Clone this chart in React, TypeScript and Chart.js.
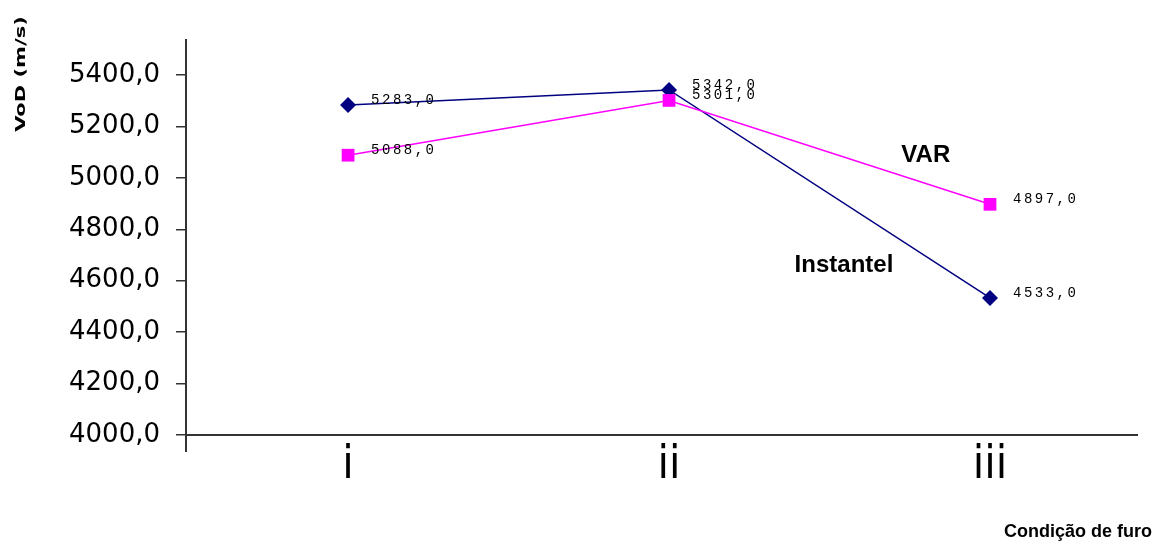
import React, { useEffect, useRef } from "react";
import { Chart, registerables } from "chart.js";

Chart.register(...registerables);

const categories = ["i", "ii", "iii"];
const instantelValues = [5283, 5342, 4533];
const varValues = [5088, 5301, 4897];
const yTickValues = [4000, 4200, 4400, 4600, 4800, 5000, 5200, 5400];
const seriesNames = ["VAR", "Instantel"];
const xAxisTitle = "Condição de furo";
const yAxisTitle = "VoD (m/s)";

const fmt = (v: number) => Number(v).toFixed(1).replace(".", ",");
const toPoints = (vals: number[]) => vals.map((v, i) => ({ x: i, y: v }));

const annotationPlugin = {
  id: "annotations",
  afterDraw(chart: any) {
    const ctx = chart.ctx as CanvasRenderingContext2D;
    const xs = chart.scales.x;
    const ys = chart.scales.y;
    const area = chart.chartArea;
    ctx.save();
    ctx.strokeStyle = "#333";
    ctx.lineWidth = 2;
    ctx.beginPath();
    ctx.moveTo(area.left, area.bottom);
    ctx.lineTo(area.left, area.bottom + 17);
    ctx.stroke();

    ctx.fillStyle = "#000";
    ctx.font = '14px "Liberation Mono", "DejaVu Sans Mono", monospace';
    (ctx as any).letterSpacing = "2.5px";
    ctx.textAlign = "left";
    ctx.textBaseline = "middle";
    chart.data.datasets.forEach((ds: any, di: number) => {
      const meta = chart.getDatasetMeta(di);
      meta.data.forEach((pt: any, i: number) => {
        ctx.fillText(fmt(ds.data[i].y), pt.x + 23, pt.y - 5);
      });
    });
    (ctx as any).letterSpacing = "0px";

    ctx.font = 'bold 24px "Liberation Sans", Arial, sans-serif';
    ctx.textAlign = "center";
    ctx.fillText(seriesNames[0], xs.getPixelForValue(1.8), ys.getPixelForValue(5089));
    ctx.fillText(seriesNames[1], xs.getPixelForValue(1.545), ys.getPixelForValue(4661));

    ctx.font = 'bold 18px "Liberation Sans", Arial, sans-serif';
    ctx.textAlign = "right";
    ctx.fillText(xAxisTitle, 1152, 532);

    ctx.translate(21, 74);
    ctx.rotate(-Math.PI / 2);
    ctx.scale(1.5, 1);
    ctx.font = 'bold 14px "DejaVu Sans", sans-serif';
    ctx.textAlign = "center";
    ctx.fillText(yAxisTitle, 0, 0);
    ctx.restore();
  },
};

export default function App() {
  const ref = useRef<HTMLCanvasElement | null>(null);
  useEffect(() => {
    if (!ref.current) return;
    const chart = new Chart(ref.current, {
      type: "line",
      data: {
        datasets: [
          {
            label: seriesNames[0],
            data: toPoints(varValues),
            borderColor: "#FF00FF",
            backgroundColor: "#FF00FF",
            borderWidth: 1.5,
            pointStyle: "rect",
            pointRadius: 9,
            pointBorderWidth: 0,
            fill: false,
          },
          {
            label: seriesNames[1],
            data: toPoints(instantelValues),
            borderColor: "#000080",
            backgroundColor: "#000080",
            borderWidth: 1.5,
            pointStyle: "rectRot",
            pointRadius: 8,
            pointBorderWidth: 0,
            fill: false,
          },
        ],
      },
      options: {
        animation: false,
        responsive: false,
        layout: { padding: { left: 0, top: 40, right: 22, bottom: 0 } },
        plugins: {
          legend: { display: false },
          tooltip: { enabled: false },
        },
        scales: {
          x: {
            type: "linear",
            min: -0.505,
            max: 2.458,
            afterBuildTicks: (s: any) => {
              s.ticks = categories.map((_, i) => ({ value: i }));
            },
            afterFit: (s: any) => {
              s.height = 112;
            },
            ticks: {
              callback: (v: any) => categories[v as number] ?? "",
              font: { family: '"Liberation Sans Narrow", "DejaVu Sans Condensed", sans-serif', size: 46 },
              color: "#000",
              padding: 3,
              maxRotation: 0,
              autoSkip: false,
            },
            grid: { display: false, drawTicks: false },
            border: { display: true, color: "#333", width: 2 },
          },
          y: {
            type: "linear",
            min: 4000,
            max: 5536,
            afterBuildTicks: (s: any) => {
              s.ticks = yTickValues.map((v) => ({ value: v }));
            },
            afterFit: (s: any) => {
              s.width = 186;
            },
            ticks: {
              callback: (v: any) => fmt(Number(v)),
              font: { family: '"DejaVu Sans", sans-serif', size: 26 },
              color: "#000",
              padding: 16,
            },
            grid: {
              drawOnChartArea: false,
              drawTicks: true,
              tickLength: 10,
              color: "#333",
              lineWidth: 1.5,
            },
            border: { display: true, color: "#333", width: 2 },
          },
        },
      },
      plugins: [annotationPlugin],
    });
    return () => chart.destroy();
  }, []);
  return (
    <div style={{ position: "fixed", left: 0, top: 0, width: 1159, height: 547, background: "#fff" }}>
      <canvas ref={ref} width={1159} height={547} />
    </div>
  );
}
